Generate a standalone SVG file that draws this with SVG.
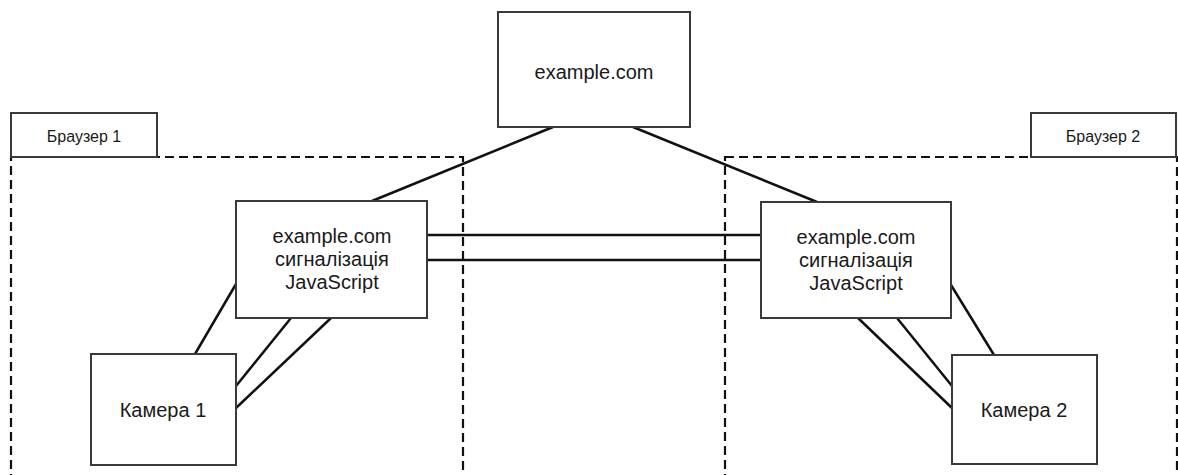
<svg xmlns="http://www.w3.org/2000/svg" width="1178" height="475" viewBox="0 0 1178 475">
  <style>
    .box { fill: #ffffff; stroke: #3a3a3a; stroke-width: 2; }
    .zone { fill: none; stroke: #111111; stroke-width: 2.2; stroke-dasharray: 9 5; }
    .link { stroke: #111111; stroke-width: 2.5; fill: none; }
    .lbl { font-family: "Liberation Sans", Arial, sans-serif; fill: #1a1a1a; text-anchor: middle; }
    .big { font-size: 20px; }
    .small { font-size: 16px; }
  </style>
  <rect width="1178" height="475" fill="#ffffff"/>

  <!-- browser zones -->
  <g id="browser1">
    <rect class="zone" x="11" y="157" width="452" height="320"/>
    <rect class="box" x="11" y="113" width="146" height="44"/>
    <text class="lbl small" x="84" y="142">Браузер 1</text>
  </g>
  <g id="browser2">
    <rect class="zone" x="725" y="157" width="452" height="320"/>
    <rect class="box" x="1031" y="113" width="145" height="44"/>
    <text class="lbl small" x="1103" y="142">Браузер 2</text>
  </g>

  <!-- connectors -->
  <g id="connectors">
    <line class="link" x1="553" y1="127" x2="372" y2="201"/>
    <line class="link" x1="633" y1="127" x2="817" y2="202"/>
    <line class="link" x1="427" y1="235" x2="761" y2="235"/>
    <line class="link" x1="427" y1="260" x2="761" y2="260"/>
    <line class="link" x1="195" y1="354" x2="236" y2="284"/>
    <line class="link" x1="291" y1="318" x2="236" y2="386"/>
    <line class="link" x1="331" y1="318" x2="236" y2="408"/>
    <line class="link" x1="951" y1="285" x2="994" y2="355"/>
    <line class="link" x1="897" y1="318" x2="952" y2="386"/>
    <line class="link" x1="858" y1="318" x2="952" y2="408"/>
  </g>

  <g id="server">
    <rect class="box" x="498" y="12" width="192" height="115"/>
    <text class="lbl big" x="594" y="79">example.com</text>
  </g>

  <g id="signaling1">
    <rect class="box" x="236" y="201" width="191" height="117"/>
    <text class="lbl big" x="332" y="243">example.com</text>
    <text class="lbl big" x="332" y="266">сигналізація</text>
    <text class="lbl big" x="332" y="289">JavaScript</text>
  </g>

  <g id="signaling2">
    <rect class="box" x="761" y="202" width="190" height="116"/>
    <text class="lbl big" x="856" y="244">example.com</text>
    <text class="lbl big" x="856" y="267">сигналізація</text>
    <text class="lbl big" x="856" y="290">JavaScript</text>
  </g>

  <g id="camera1">
    <rect class="box" x="91" y="354" width="145" height="111"/>
    <text class="lbl big" x="163" y="417">Камера 1</text>
  </g>

  <g id="camera2">
    <rect class="box" x="952" y="355" width="145" height="109"/>
    <text class="lbl big" x="1024" y="417">Камера 2</text>
  </g>
</svg>
